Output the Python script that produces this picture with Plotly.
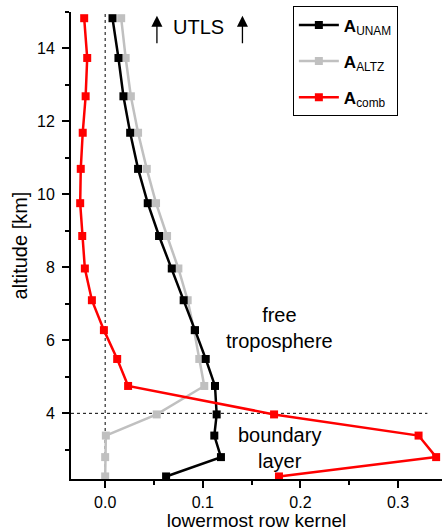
import plotly.graph_objects as go

altitude = [2.27, 2.80, 3.39, 3.97, 4.75, 5.49, 6.28, 7.10, 7.97, 8.86, 9.76, 10.70, 11.69, 12.69, 13.74, 14.83]
a_unam = [0.0624, 0.1186, 0.1118, 0.1142, 0.1125, 0.103, 0.092, 0.0804, 0.0682, 0.0552, 0.0436, 0.0337, 0.0256, 0.0187, 0.0136, 0.0075]
a_altz = [0.0, 0.0, 0.0007, 0.0528, 0.1015, 0.0964, 0.091, 0.0845, 0.075, 0.0634, 0.0521, 0.0426, 0.0337, 0.0263, 0.021, 0.0164]
a_comb = [0.178, 0.339, 0.321, 0.173, 0.0235, 0.0123, -0.0013, -0.0136, -0.0208, -0.0235, -0.0256, -0.025, -0.023, -0.020, -0.0184, -0.0215]

FONT = "Liberation Sans, Arial, sans-serif"

fig = go.Figure()
fig.add_trace(go.Scatter(x=a_altz, y=altitude, mode="lines+markers", name="<b>A</b><sub>ALTZ</sub>",
                         line=dict(color="#c0c0c0", width=2.5), marker=dict(symbol="square", size=8, color="#c0c0c0"),
                         legendrank=2, legendgroup="altz"))
fig.add_trace(go.Scatter(x=a_unam, y=altitude, mode="lines+markers", name="<b>A</b><sub>UNAM</sub>",
                         line=dict(color="black", width=2.5), marker=dict(symbol="square", size=8, color="black"),
                         legendrank=1, legendgroup="unam"))
fig.add_trace(go.Scatter(x=a_comb, y=altitude, mode="lines+markers", name="<b>A</b><sub>comb</sub>",
                         line=dict(color="#ff0000", width=2.5), marker=dict(symbol="square", size=8, color="#ff0000"),
                         legendrank=3, legendgroup="comb"))

# dotted reference lines
fig.add_shape(type="line", xref="x", yref="paper", x0=0, x1=0, y0=0, y1=1,
              line=dict(color="black", width=1, dash="dot"), layer="below")
fig.add_shape(type="line", xref="x", yref="y", x0=-0.035, x1=0.33, y0=4, y1=4,
              line=dict(color="black", width=1, dash="dot"), layer="below")

# annotations
fig.add_annotation(x=0.096, y=14.6, text="UTLS", showarrow=False, font=dict(size=20, color="black", family=FONT))
for ax_x in [0.053, 0.1406]:
    fig.add_annotation(x=ax_x, y=14.9, text="", showarrow=True, ax=0, ay=29, arrowhead=2,
                       arrowsize=1.7, arrowwidth=1.3, arrowcolor="black", standoff=0)
fig.add_annotation(x=0.179, y=6.33, text="free<br>troposphere", showarrow=False,
                   font=dict(size=20, color="black", family=FONT))
fig.add_annotation(x=0.179, y=3.04, text="boundary<br>layer", showarrow=False,
                   font=dict(size=20, color="black", family=FONT))

fig.update_layout(
    width=443, height=531,
    margin=dict(l=71, r=1, t=12, b=52),
    plot_bgcolor="white", paper_bgcolor="white",
    font=dict(family=FONT, color="black", size=16),
    showlegend=True,
    legend=dict(x=0.598, y=1.012, xanchor="left", yanchor="top", bgcolor="white",
                bordercolor="black", borderwidth=1, font=dict(size=17, family=FONT),
                itemwidth=40, traceorder="grouped", tracegroupgap=11),
    xaxis=dict(range=[-0.035, 0.345], showline=True, linecolor="black", linewidth=2,
               ticks="outside", ticklen=7, tickwidth=1.5, tickcolor="black", dtick=0.1, tick0=0,
               tickformat=".1f", showgrid=False, zeroline=False,
               minor=dict(dtick=0.05, ticks="outside", ticklen=4, tickwidth=1.5, tickcolor="black", showgrid=False),
               title=dict(text="lowermost row kernel", font=dict(size=19), standoff=5),
               tickfont=dict(size=16), ticklabelstandoff=1),
    yaxis=dict(range=[2.2, 15.0], showline=True, linecolor="black", linewidth=2,
               ticks="outside", ticklen=7, tickwidth=1.5, tickcolor="black", dtick=2, tick0=0,
               showgrid=False, zeroline=False,
               minor=dict(dtick=1, ticks="outside", ticklen=4, tickwidth=1.5, tickcolor="black", showgrid=False),
               title=dict(text="altitude [km]", font=dict(size=20), standoff=4),
               tickfont=dict(size=16), ticklabelstandoff=4),
)

fig.write_html("out.html")
